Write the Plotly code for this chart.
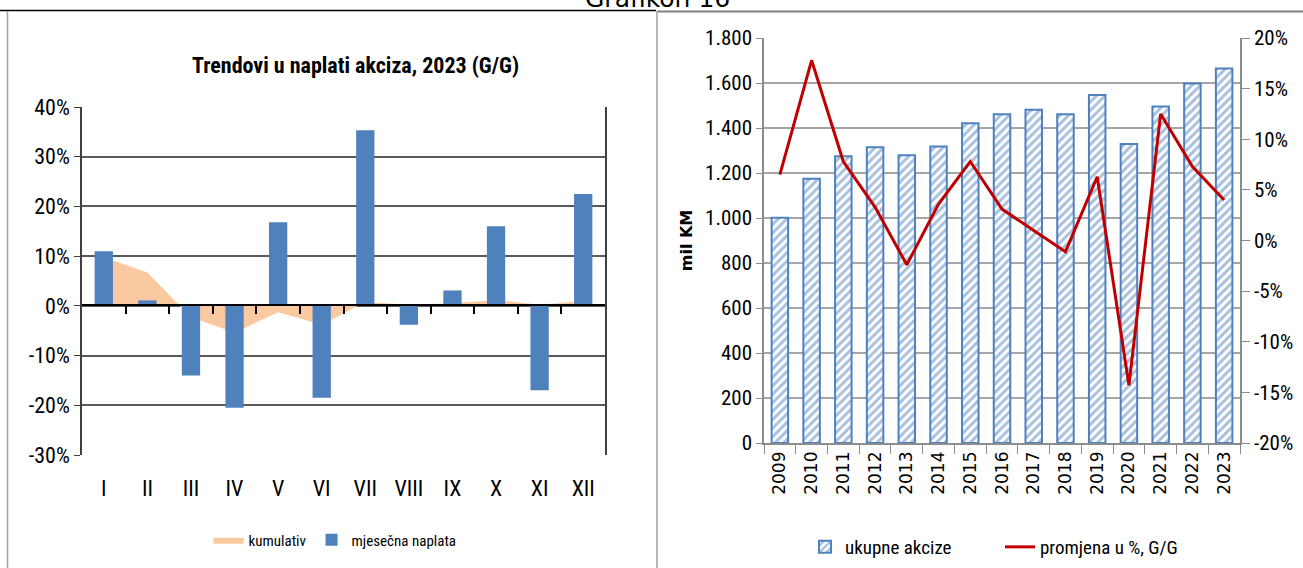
import plotly.graph_objects as go

W, H = 1303, 568

# left chart: monthly excise collection, 2023 y/y
months = ["I", "II", "III", "IV", "V", "VI", "VII", "VIII", "IX", "X", "XI", "XII"]
monthly = [0.110, 0.011, -0.140, -0.205, 0.168, -0.185, 0.353, -0.038, 0.031, 0.160, -0.170, 0.225]
cumulative = [0.098, 0.067, -0.023, -0.054, -0.013, -0.038, 0.008, 0.002, 0.005, 0.012, 0.002, 0.010]
left_ticks = [-0.3, -0.2, -0.1, 0, 0.1, 0.2, 0.3, 0.4]
left_ticktext = ["-30%", "-20%", "-10%", "0%", "10%", "20%", "30%", "40%"]

# right chart: total excises and y/y change
years = [str(y) for y in range(2009, 2024)]
total = [1001, 1175, 1274, 1314, 1279, 1318, 1421, 1461, 1481, 1461, 1547, 1329, 1496, 1598, 1664]
change = [0.065, 0.178, 0.078, 0.033, -0.024, 0.036, 0.078, 0.031, 0.010, -0.011, 0.063, -0.143, 0.125, 0.073, 0.040]
right_ticks = [-0.20, -0.15, -0.10, -0.05, 0, 0.05, 0.10, 0.15, 0.20]
right_ticktext = ["-20%", "-15%", "-10%", "-5%", "0%", "5%", "10%", "15%", "20%"]

NARROW = "Liberation Sans Narrow, Arial Narrow, Roboto Condensed, sans-serif"


def px_x(v):
    return v / W


def px_y(v):
    return 1 - v / H


idx = list(range(len(months)))

fig = go.Figure()

# cumulative area (base subplot, behind the bars)
fig.add_trace(go.Scatter(
    x=idx, y=cumulative, name="kumulativ",
    mode="lines", line=dict(width=0, color="#FAC9A0"),
    fill="tozeroy", fillcolor="#FAC9A0",
    xaxis="x", yaxis="y", legend="legend",
))
fig.add_trace(go.Bar(
    x=idx, y=monthly, name="mjesečna naplata",
    marker=dict(color="#4F81BD", line=dict(width=0)),
    width=0.42, xaxis="x4", yaxis="y", legend="legend",
))

fig.add_trace(go.Bar(
    x=years, y=total, name="ukupne akcize",
    marker=dict(
        color="white",
        line=dict(color="#4F81BD", width=2),
        pattern=dict(shape="/", fgcolor="#4F81BD", bgcolor="white", size=6, solidity=0.5),
    ),
    width=0.52, xaxis="x2", yaxis="y2", legend="legend2",
))
fig.add_trace(go.Scatter(
    x=years, y=change, name="promjena u %, G/G",
    mode="lines", line=dict(color="#C00000", width=3),
    xaxis="x2", yaxis="y3", legend="legend2",
))

left_dom = [px_x(82), px_x(605)]
zero_pos = px_y(305)

fig.update_layout(
    width=W, height=H,
    margin=dict(l=0, r=0, t=0, b=0, autoexpand=False),
    paper_bgcolor="white", plot_bgcolor="rgba(0,0,0,0)",
    separators=",.",
    barmode="overlay",
    font=dict(family=NARROW, color="#000000"),
    # left: zero line with boundary ticks
    xaxis=dict(
        domain=left_dom, anchor="free", position=zero_pos,
        range=[-0.5, len(months) - 0.5],
        tickvals=[i + 0.5 for i in idx[:-1]], ticks="outside", ticklen=8,
        tickcolor="#000000", tickwidth=1.5,
        showticklabels=False, showgrid=False, zeroline=False,
        showline=True, linecolor="#000000", linewidth=2,
    ),
    # left: month labels at the bottom
    xaxis4=dict(
        overlaying="x", anchor="y", side="bottom",
        range=[-0.5, len(months) - 0.5],
        tickvals=idx, ticktext=months, ticks="",
        tickfont=dict(family=NARROW, size=22, color="#000000"),
        ticklabelstandoff=18,
        showgrid=False, zeroline=False, showline=False,
    ),
    yaxis=dict(
        domain=[px_y(455), px_y(107)], anchor="x4",
        range=[-0.30, 0.40],
        tickvals=left_ticks, ticktext=left_ticktext,
        tickfont=dict(family=NARROW, size=22, color="#000000"),
        ticks="outside", ticklen=6, tickcolor="#404040",
        showgrid=True, gridcolor="#5a5a5a", gridwidth=1.5,
        zeroline=False,
        showline=True, linecolor="#404040", linewidth=1.5, mirror=True,
    ),
    # right chart
    xaxis2=dict(
        domain=[px_x(764), px_x(1240)], anchor="y2",
        type="category", tickson="boundaries",
        ticks="outside", ticklen=9, tickcolor="#8c8c8c",
        tickangle=-90,
        tickfont=dict(family="DejaVu Sans", size=17, color="#000000"),
        showgrid=False, zeroline=False,
        showline=True, linecolor="#8c8c8c", linewidth=1.5,
    ),
    yaxis2=dict(
        domain=[px_y(443), px_y(38)], anchor="x2",
        range=[0, 1800], dtick=200, tickformat=",d",
        tickfont=dict(family=NARROW, size=21, color="#000000"),
        ticks="outside", ticklen=6, tickcolor="#8c8c8c",
        showgrid=True, gridcolor="#a6a6a6", gridwidth=1.5,
        zeroline=False, showline=True, linecolor="#8c8c8c", linewidth=1.5,
        title=dict(text="<b>mil KM</b>", font=dict(family="DejaVu Sans", size=16, color="#000000"), standoff=8),
    ),
    yaxis3=dict(
        overlaying="y2", side="right", anchor="x2",
        range=[-0.20, 0.20],
        tickvals=right_ticks, ticktext=right_ticktext,
        tickfont=dict(family=NARROW, size=21, color="#000000"),
        ticks="outside", ticklen=8, tickcolor="#8c8c8c",
        showgrid=False, zeroline=False,
        showline=True, linecolor="#8c8c8c", linewidth=1.5,
    ),
    legend=dict(
        orientation="h", x=px_x(335), xanchor="center", y=px_y(540), yanchor="middle",
        font=dict(family=NARROW, size=15, color="#000000"),
        itemwidth=30, bgcolor="rgba(0,0,0,0)",
    ),
    legend2=dict(
        orientation="h", x=px_x(805), xanchor="left", y=px_y(547), yanchor="middle",
        font=dict(family=NARROW, size=19, color="#000000"),
        entrywidth=150, bgcolor="rgba(0,0,0,0)",
    ),
    showlegend=True,
)

fig.add_annotation(
    text="<b>Trendovi u naplati akciza, 2023 (G/G)</b>",
    xref="paper", yref="paper", x=px_x(355), y=px_y(65),
    xanchor="center", yanchor="middle", showarrow=False,
    font=dict(family=NARROW, size=22, color="#000000"),
)
# page caption, cut off by the top edge as in the source
fig.add_annotation(
    text="Grafikon 16",
    xref="paper", yref="paper", x=px_x(657), y=px_y(-1),
    xanchor="center", yanchor="middle", showarrow=False,
    font=dict(family="DejaVu Sans", size=25, color="#000000"),
)

# panel frames
fig.add_shape(type="line", xref="paper", yref="paper",
              x0=0, x1=px_x(656), y0=px_y(10.5), y1=px_y(10.5),
              line=dict(color="#000000", width=1.5))
fig.add_shape(type="line", xref="paper", yref="paper",
              x0=px_x(657), x1=1, y0=px_y(11.5), y1=px_y(11.5),
              line=dict(color="#808080", width=2))
fig.add_shape(type="line", xref="paper", yref="paper",
              x0=px_x(7.5), x1=px_x(7.5), y0=px_y(11), y1=0,
              line=dict(color="#a0a0a0", width=1.5))
fig.add_shape(type="line", xref="paper", yref="paper",
              x0=px_x(657), x1=px_x(657), y0=px_y(11), y1=0,
              line=dict(color="#a0a0a0", width=1.5))

# page margin off so the figure sits at the top-left corner
fig.write_html("out.html", config={"displayModeBar": False},
               post_script="document.body.style.margin='0';")
